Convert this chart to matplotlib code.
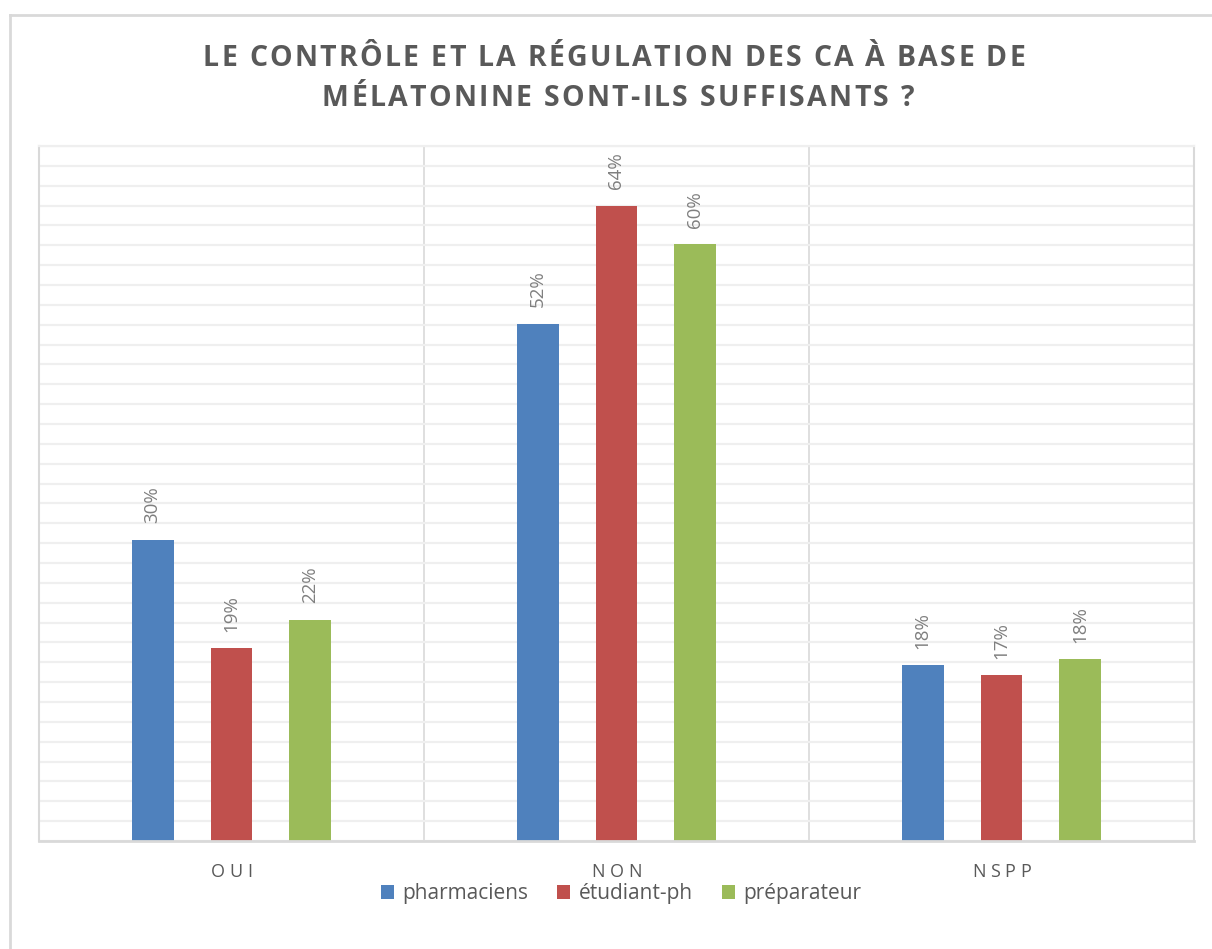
import matplotlib
matplotlib.use("Agg")
import matplotlib.pyplot as plt
import numpy as np
from matplotlib.patches import Patch
from matplotlib.transforms import IdentityTransform
from matplotlib.font_manager import FontProperties

categories = ["OUI", "NON", "NSPP"]
series = ["pharmaciens", "étudiant-ph", "préparateur"]
pharmaciens = [30.3, 52.1, 17.7]
etudiant_ph = [19.4, 64.0, 16.7]
preparateur = [22.3, 60.1, 18.3]
colors = ["#4F81BD", "#C0504D", "#9BBB59"]

title_lines = ["LE CONTRÔLE ET LA RÉGULATION DES CA À BASE DE",
               "MÉLATONINE SONT-ILS SUFFISANTS ?"]

W, H = 1212, 949
plt.rcParams["font.family"] = ["Open Sans", "DejaVu Sans"]

fig = plt.figure(figsize=(W / 100, H / 100), dpi=100)
ax = fig.add_axes([39 / W, 1 - 841 / H, (1194 - 39) / W, (841 - 146) / H])

x = np.arange(len(categories))
bar_w = 0.109
step = 0.205
for i, (vals, name) in enumerate(zip([pharmaciens, etudiant_ph, preparateur], series)):
    pos = x + (i - 1) * step
    ax.bar(pos, vals, bar_w, color=colors[i], zorder=3, label=name)
    for px, v in zip(pos, vals):
        ax.annotate(f"{v:.0f}%", (px, v), xytext=(0, 12), textcoords="offset points",
                    rotation=90, ha="center", va="bottom", fontsize=13.5,
                    color="#7F7F7F", zorder=4)

ax.set_xlim(-0.5, 2.5)
ax.set_ylim(0, 70)
ax.set_yticks(np.arange(0, 71, 2))
ax.yaxis.grid(True, color="#EFEFEF", linewidth=1.6, zorder=0)
ax.tick_params(left=False, bottom=False, labelleft=False, labelbottom=False)
for xb in [0.5, 1.5]:
    ax.axvline(xb, color="#D9D9D9", linewidth=1.2, zorder=1)
for side in ["left", "right"]:
    ax.spines[side].set_color("#D9D9D9")
    ax.spines[side].set_linewidth(1.5)
ax.spines["top"].set_color("#EFEFEF")
ax.spines["top"].set_linewidth(1.6)
ax.spines["bottom"].set_color("#D9D9D9")
ax.spines["bottom"].set_linewidth(2)
ax.spines["bottom"].set_zorder(5)

# outer chart frame (left and top edges visible)
fig.add_artist(plt.Line2D([9.5 / W, 9.5 / W], [0, 1 - 15 / H], color="#D9D9D9",
                          linewidth=2, transform=fig.transFigure))
fig.add_artist(plt.Line2D([9.5 / W, 1.0], [1 - 15 / H, 1 - 15 / H], color="#D9D9D9",
                          linewidth=2, transform=fig.transFigure))

renderer = fig.canvas.get_renderer()


def text_width(s, fp):
    w, _, _ = renderer.get_text_width_height_descent(s, fp, ismath=False)
    return w


def spaced_text(s, cx, baseline, size, spacing, weight="normal", color="#595959"):
    fp = FontProperties(family=["Open Sans", "DejaVu Sans"], size=size, weight=weight)
    ref = text_width("HH", fp)
    adv = [text_width("H" + c + "H", fp) - ref for c in s]
    total = sum(adv) + spacing * (len(s) - 1)
    xp = cx - total / 2
    for c, a in zip(s, adv):
        fig.text(xp, H - baseline, c, fontproperties=fp, color=color,
                 ha="left", va="baseline", transform=IdentityTransform())
        xp += a + spacing


spaced_text(title_lines[0], 614, 66, 20.5, 2.3, weight="bold")
spaced_text(title_lines[1], 618, 106, 20.5, 2.3, weight="bold")

for i, c in enumerate(categories):
    cx = 39 + (i + 0.5) * (1194 - 39) / 3
    spaced_text(c, cx, 877, 13, 4.5, color="#595959")

handles = [Patch(facecolor=colors[i], label=series[i]) for i in range(3)]
fig.legend(handles=handles, loc="center", bbox_to_anchor=(621 / W, 1 - 894 / H),
           ncol=3, frameon=False, fontsize=15, handlelength=0.62, handleheight=0.62,
           handletextpad=0.4, columnspacing=1.4, labelcolor="#595959")

fig.savefig("out.png", dpi=100)
